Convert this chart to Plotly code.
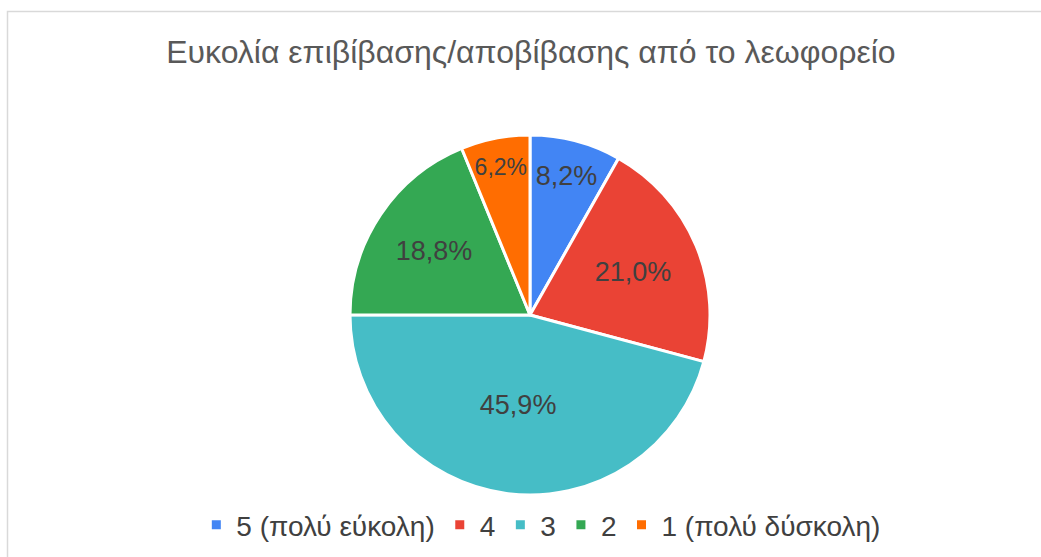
import plotly.graph_objects as go

labels = ["5 (πολύ εύκολη)", "4", "3", "2", "1 (πολύ δύσκολη)"]
values = [8.2, 21.0, 45.9, 18.8, 6.2]
colors = ["#4285F4", "#EA4335", "#46BDC6", "#34A853", "#FF6D01"]

W, H = 1041, 557

fig = go.Figure(go.Pie(
    labels=labels,
    values=values,
    sort=False,
    direction="clockwise",
    rotation=0,
    marker=dict(colors=colors, line=dict(color="white", width=3)),
    texttemplate="%{value:.1f}%",
    textposition="inside",
    insidetextorientation="horizontal",
    textfont=dict(color="#404040", size=27, family="Liberation Sans, Arial"),
    hoverinfo="label+percent",
    domain=dict(x=[350 / W, 710 / W], y=[62 / H, 422 / H]),
))

fig.update_layout(
    width=W,
    height=H,
    margin=dict(l=0, r=0, t=0, b=0),
    paper_bgcolor="white",
    separators=",.",
    font=dict(family="Liberation Sans, Arial", color="#404040"),
    title=dict(
        text="Ευκολία επιβίβασης/αποβίβασης από το λεωφορείο",
        x=0.51, xanchor="center", y=1 - 52 / H, yanchor="middle",
        font=dict(size=32, color="#595959"),
    ),
    legend=dict(
        orientation="h", x=0.52, xanchor="center", y=1 - 525 / H, yanchor="middle",
        font=dict(size=28, color="#404040"),
        itemwidth=30, traceorder="normal",
    ),
    shapes=[dict(
        type="rect", xref="paper", yref="paper",
        x0=7.5 / W, x1=1.05, y0=-0.05, y1=1 - 11.5 / H,
        line=dict(color="#d9d9d9", width=1.5),
    )],
)

fig.write_html("out.html", config={"displayModeBar": False},
               post_script="document.body.style.margin='0';")
